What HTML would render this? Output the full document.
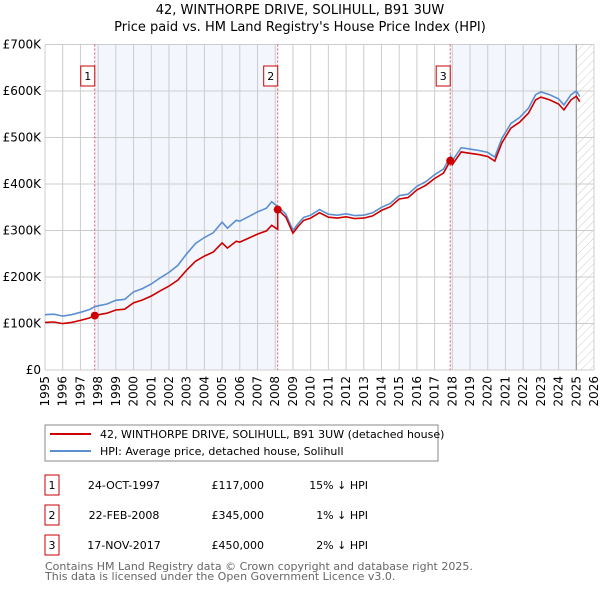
<!DOCTYPE html>
<html><head><meta charset="utf-8"><style>
body{margin:0;background:#fff;font-family:"DejaVu Sans","Liberation Sans",sans-serif;}
svg text{font-family:"DejaVu Sans","Liberation Sans",sans-serif;}
</style></head><body>
<svg id="chart" width="600" height="590" xmlns="http://www.w3.org/2000/svg">
<defs><pattern id="hatch" width="6" height="6" patternUnits="userSpaceOnUse" patternTransform="rotate(45)"><line x1="0" y1="0" x2="0" y2="6" stroke="#ccc" stroke-width="1"/></pattern></defs>
<text x="300" y="14" text-anchor="middle" font-size="13">42, WINTHORPE DRIVE, SOLIHULL, B91 3UW</text>
<text x="300" y="31" text-anchor="middle" font-size="13">Price paid vs. HM Land Registry's House Price Index (HPI)</text>
<g id="plot"></g>
<g>
<rect x="45" y="425" width="393" height="36" fill="#fff" stroke="#888" stroke-width="1"/>
<line x1="50" y1="434" x2="91" y2="434" stroke="#cc0000" stroke-width="2"/>
<text x="100" y="438" font-size="11">42, WINTHORPE DRIVE, SOLIHULL, B91 3UW (detached house)</text>
<line x1="50" y1="451" x2="91" y2="451" stroke="#5b8fd0" stroke-width="2"/>
<text x="100" y="455" font-size="11">HPI: Average price, detached house, Solihull</text>
</g>
<g id="table" font-size="11"></g>
<text x="45" y="570" font-size="11" fill="#666">Contains HM Land Registry data © Crown copyright and database right 2025.</text>
<text x="45" y="580" font-size="11" fill="#666">This data is licensed under the Open Government Licence v3.0.</text>
</svg>
<script>
const hpiYears=[1995,1995.5,1996,1996.5,1997,1997.5,1997.8,1998,1998.5,1999,1999.5,2000,2000.5,2001,2001.5,2002,2002.5,2003,2003.5,2004,2004.5,2005,2005.3,2005.8,2006,2006.5,2007,2007.5,2007.8,2008.2,2008.6,2009.0,2009.3,2009.6,2010,2010.5,2011,2011.5,2012,2012.5,2013,2013.5,2014,2014.5,2015,2015.5,2016,2016.5,2017,2017.5,2017.9,2018,2018.5,2019,2019.5,2020,2020.4,2020.8,2021.3,2021.8,2022.3,2022.7,2023,2023.5,2024,2024.3,2024.7,2025,2025.2];
const hpiValues=[119,120,116,119,124,130,136,138,142,150,152,168,175,185,198,210,225,250,272,285,295,318,305,322,320,330,340,348,362,350,335,300,315,328,333,345,335,333,336,332,333,338,350,358,375,378,395,405,420,432,460,450,478,475,472,468,458,498,530,543,563,592,598,592,583,570,592,600,588];
const saleLabels=["1","2","3"];
const saleYears=[1997.81,2008.14,2017.88];
const salePrices=[117,345,450];
const saleDates=["24-OCT-1997","22-FEB-2008","17-NOV-2017"];
const salePriceText=["£117,000","£345,000","£450,000"];
const saleDiffText=["15% ↓ HPI","1% ↓ HPI","2% ↓ HPI"];
const yTicks=[0,100,200,300,400,500,600,700];
const yTickLabels=["£0","£100K","£200K","£300K","£400K","£500K","£600K","£700K"];
const xTicks=[1995,1996,1997,1998,1999,2000,2001,2002,2003,2004,2005,2006,2007,2008,2009,2010,2011,2012,2013,2014,2015,2016,2017,2018,2019,2020,2021,2022,2023,2024,2025,2026];
const dataEnd=2025.0;

const X0=45,X1=594,Y0=370,Y1=44.5;
const xs=y=>X0+(y-1995)/(2026-1995)*(X1-X0);
const ys=v=>Y0-v/700*(Y0-Y1);
const NS="http://www.w3.org/2000/svg";
const plot=document.getElementById('plot');
function mk(tag,attrs,parent){const e=document.createElementNS(NS,tag);for(const k in attrs)e.setAttribute(k,attrs[k]);(parent||plot).appendChild(e);return e;}
function hpiAt(t){for(let i=0;i<hpiYears.length-1;i++){if(t>=hpiYears[i]&&t<=hpiYears[i+1]){const f=(t-hpiYears[i])/(hpiYears[i+1]-hpiYears[i]);return hpiValues[i]+f*(hpiValues[i+1]-hpiValues[i]);}}return hpiValues[hpiValues.length-1];}

for(let i=0;i<saleYears.length;i+=2){const a=saleYears[i],b=i+1<saleYears.length?saleYears[i+1]:dataEnd;
const r=mk('rect',{x:xs(a),y:Y1,width:xs(b)-xs(a),height:Y0-Y1,fill:'#eef3fc',opacity:0.7});

}
const h=mk('rect',{x:xs(dataEnd),y:Y1,width:X1-xs(dataEnd),height:Y0-Y1,fill:'url(#hatch)'});


yTicks.forEach((v,i)=>{const l=mk('line',{x1:X0,x2:X1,y1:ys(v),y2:ys(v),stroke:'#ccc','stroke-width':1});


const t=mk('text',{x:X0-4,y:ys(v)+4,'text-anchor':'end','font-size':12});t.textContent=yTickLabels[i];

});
xTicks.forEach(y=>{const l=mk('line',{x1:xs(y),x2:xs(y),y1:Y1,y2:Y0,stroke:'#ccc','stroke-width':1});


const t=mk('text',{x:0,y:0,'text-anchor':'end','font-size':12,transform:`translate(${xs(y)+4},${Y0+6}) rotate(-90)`});t.textContent=y;

});
const dl=mk('line',{x1:xs(dataEnd),x2:xs(dataEnd),y1:Y1,y2:Y0,stroke:'#888','stroke-width':1});


saleYears.forEach((s,i)=>{const l=mk('line',{x1:xs(s),x2:xs(s),y1:Y1,y2:Y0,stroke:'#e05060','stroke-width':1,'stroke-dasharray':'2,2'});


const g=mk('g',{});


mk('rect',{x:xs(s)-14,y:66,width:14,height:20,fill:'#fff',stroke:'#c00'},g);
const t=mk('text',{x:xs(s)-7,y:80,'text-anchor':'middle','font-size':11},g);t.textContent=saleLabels[i];});
const hp=hpiYears.map((y,i)=>`${xs(y).toFixed(1)},${ys(hpiValues[i]).toFixed(1)}`).join(' ');
const hl=mk('polyline',{points:hp,fill:'none',stroke:'#5b8fd0','stroke-width':1.6});


const ratios=saleYears.map((s,i)=>salePrices[i]/hpiAt(s));
const pts=[];
hpiYears.forEach((y,i)=>{let k=0;for(let j=0;j<saleYears.length;j++)if(y>=saleYears[j])k=j;pts.push([y,hpiValues[i]*ratios[k]]);});
saleYears.forEach((s,j)=>{if(j>0)pts.push([s-0.001,hpiAt(s)*ratios[j-1]]);pts.push([s,salePrices[j]]);});
pts.sort((a,b)=>a[0]-b[0]);
const pl=mk('polyline',{points:pts.map(p=>`${xs(p[0]).toFixed(1)},${ys(p[1]).toFixed(1)}`).join(' '),fill:'none',stroke:'#cc0000','stroke-width':1.6});


saleYears.forEach((s,i)=>{const c=mk('circle',{cx:xs(s),cy:ys(salePrices[i]),r:4,fill:'#cc0000'});

});
const tb=document.getElementById('table');
const rowY=[485,515,545];
saleLabels.forEach((lab,i)=>{const g=mk('g',{},tb);


mk('rect',{x:45,y:rowY[i]-10,width:14,height:20,fill:'#fff',stroke:'#c00'},g);
let t=mk('text',{x:52,y:rowY[i]+4,'text-anchor':'middle'},g);t.textContent=lab;
t=mk('text',{x:124,y:rowY[i]+4,'text-anchor':'middle'},g);t.textContent=saleDates[i];
t=mk('text',{x:264,y:rowY[i]+4,'text-anchor':'end'},g);t.textContent=salePriceText[i];
t=mk('text',{x:368,y:rowY[i]+4,'text-anchor':'end'},g);t.textContent=saleDiffText[i];});
</script>
</body></html>
